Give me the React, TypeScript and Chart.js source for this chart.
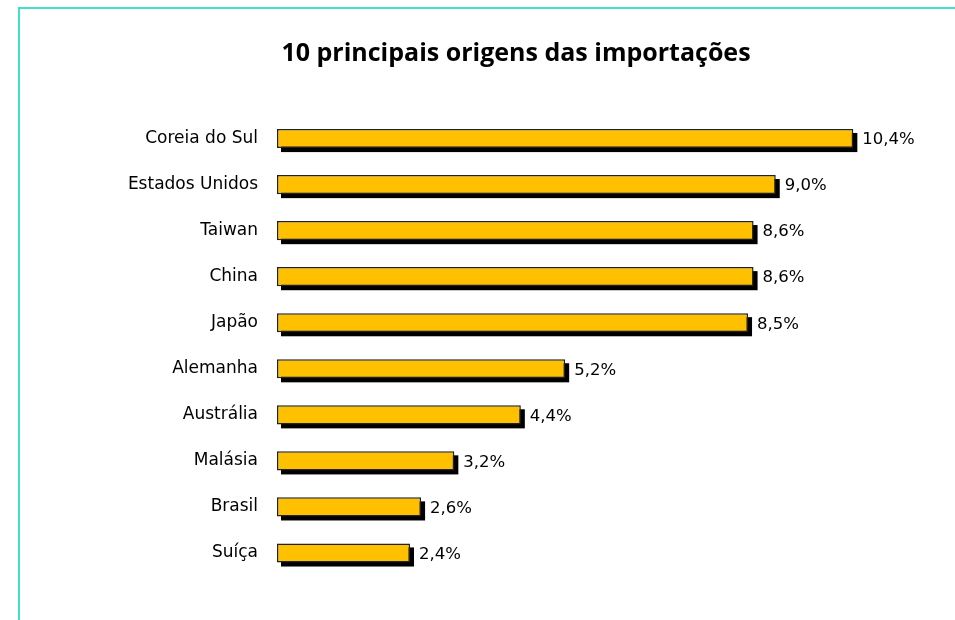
import React, { useEffect, useRef } from "react";
import { Chart, registerables } from "chart.js";

Chart.register(...registerables);

const countries = [
  "Coreia do Sul",
  "Estados Unidos",
  "Taiwan",
  "China",
  "Japão",
  "Alemanha",
  "Austrália",
  "Malásia",
  "Brasil",
  "Suíça",
];
const shares = [10.4, 9.0, 8.6, 8.6, 8.5, 5.2, 4.4, 3.2, 2.6, 2.4];
const titleText = "10 principais origens das importações";

const shadowPlugin = {
  id: "barShadow",
  beforeDatasetsDraw(chart: any) {
    const ctx = chart.ctx;
    const meta = chart.getDatasetMeta(0);
    ctx.save();
    ctx.fillStyle = "#000";
    meta.data.forEach((bar: any) => {
      const top = bar.y - bar.height / 2;
      const left = bar.base;
      const w = bar.x - bar.base;
      ctx.fillRect(left + 4, top + 4, w, bar.height);
    });
    ctx.restore();
  },
};

const valueLabelPlugin = {
  id: "valueLabels",
  afterDatasetsDraw(chart: any) {
    const ctx = chart.ctx;
    const meta = chart.getDatasetMeta(0);
    ctx.save();
    ctx.fillStyle = "#000";
    ctx.font = "16.5px 'DejaVu Sans'";
    ctx.textAlign = "left";
    ctx.textBaseline = "middle";
    meta.data.forEach((bar: any, i: number) => {
      const label = shares[i].toFixed(1).replace(".", ",") + "%";
      ctx.fillText(label, bar.x + 9, bar.y + 1.5);
    });
    ctx.restore();
  },
};

export default function App() {
  const canvasRef = useRef<HTMLCanvasElement>(null);

  useEffect(() => {
    document.body.style.margin = "0";
    document.body.style.overflow = "hidden";
    const chart = new Chart(canvasRef.current!, {
      type: "bar",
      data: {
        labels: countries,
        datasets: [
          {
            data: shares,
            backgroundColor: "#FFC000",
            borderColor: "#222222",
            borderWidth: 1.5,
            borderSkipped: false,
            barPercentage: 0.83,
            categoryPercentage: 0.5,
          },
        ],
      },
      options: {
        indexAxis: "y",
        animation: false,
        responsive: false,
        maintainAspectRatio: false,
        layout: { padding: { left: 90, right: 13, top: 0, bottom: 44 } },
        plugins: {
          legend: { display: false },
          tooltip: { enabled: false },
          title: {
            display: true,
            text: titleText,
            color: "#000",
            font: { family: "'Open Sans'", size: 25, weight: "bold", lineHeight: 1.2 },
            padding: { top: 39, bottom: 46.5 },
          },
        },
        scales: {
          x: {
            display: false,
            min: 0,
            max: 12,
          },
          y: {
            grid: { display: false, drawTicks: false },
            border: { display: false },
            ticks: {
              color: "#000",
              font: { family: "'DejaVu Sans'", size: 17 },
              padding: 19,
            },
            afterFit(scale: any) {
              scale.width = 187;
            },
          },
        },
      },
      plugins: [shadowPlugin, valueLabelPlugin],
    });
    return () => chart.destroy();
  }, []);

  return (
    <div style={{ position: "relative", width: 955, height: 620, overflow: "hidden", background: "#fff" }}>
      <canvas ref={canvasRef} width={955} height={620} style={{ position: "absolute", left: 0, top: 0 }} />
      <div
        style={{
          position: "absolute",
          left: 18,
          top: 7,
          width: 1000,
          height: 700,
          border: "2px solid #40E0D0",
          pointerEvents: "none",
        }}
      />
    </div>
  );
}
